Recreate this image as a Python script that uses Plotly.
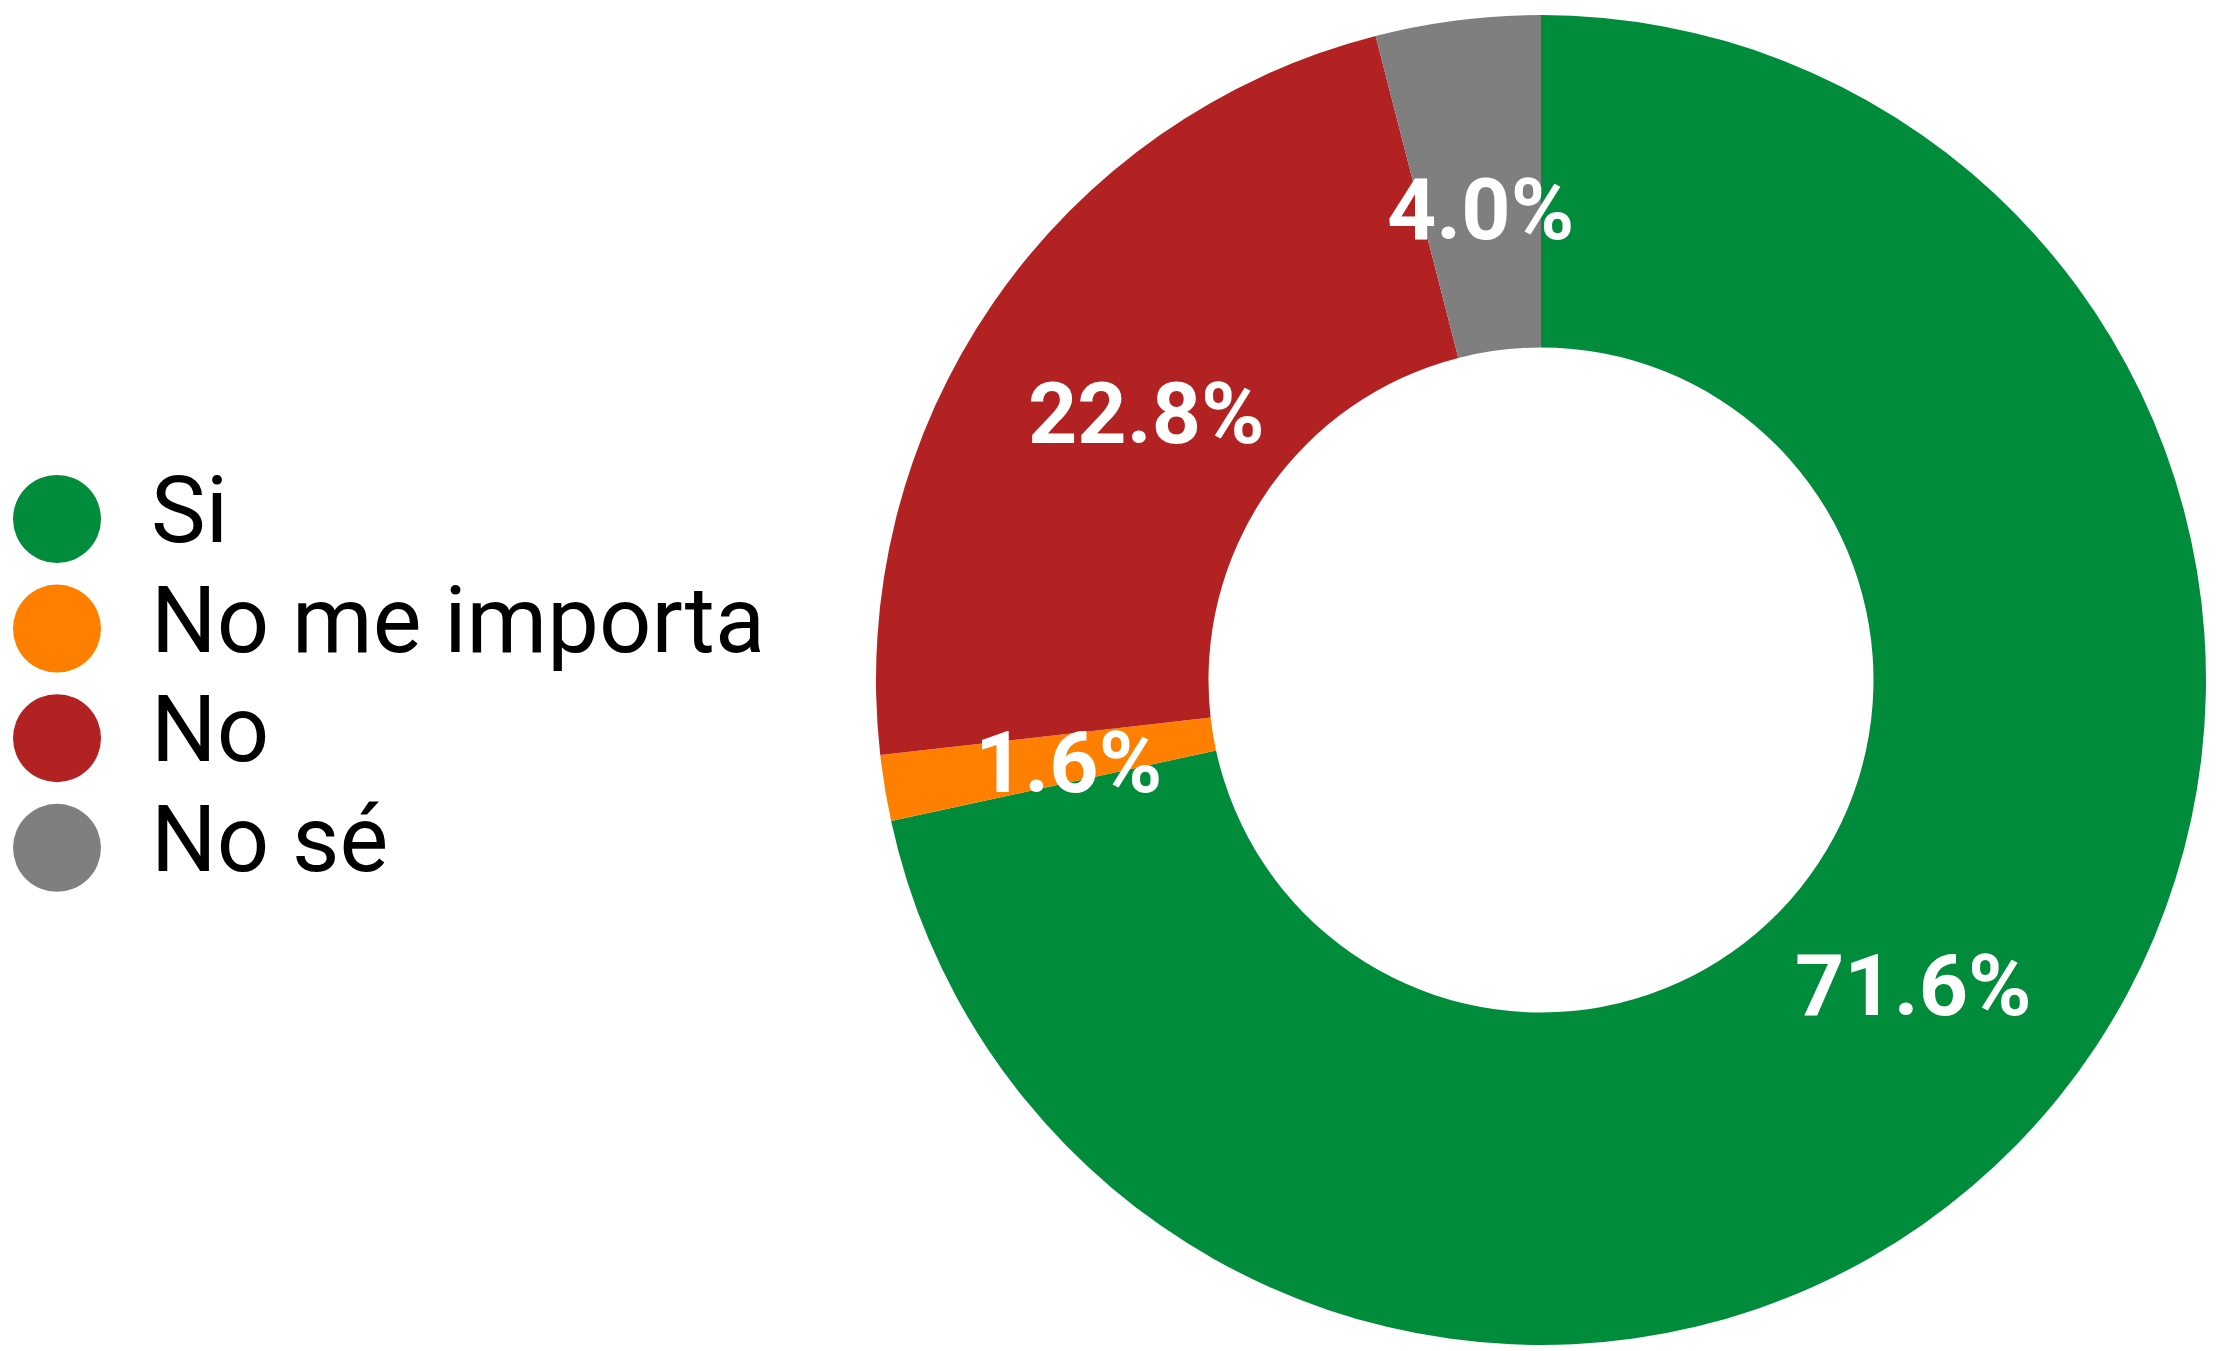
import math
import plotly.graph_objects as go

categories = ["Si", "No me importa", "No", "No sé"]
values = [71.6, 1.6, 22.8, 4.0]
colors = ["#008C3A", "#FF8000", "#B22222", "#7F7F7F"]
legend_rows = list(range(len(categories)))

# pie geometry (layout)
PIE_DOMAIN_X = [0.39477, 0.99414]
PIE_DOMAIN_Y = [0.00444, 0.98890]
HOLE = 0.5
LABEL_RADIUS = 0.72  # fraction of outer radius

# label positions derived from data (clockwise from 12 o'clock)
total = sum(values)
label_x, label_y, label_text = [], [], []
cum = 0.0
for v in values:
    theta = 2 * math.pi * (cum + v / 2) / total
    label_x.append(LABEL_RADIUS * math.sin(theta))
    label_y.append(LABEL_RADIUS * math.cos(theta))
    label_text.append(f"{100 * v / total:.1f}%")
    cum += v

fig = go.Figure()

fig.add_trace(go.Pie(
    labels=categories,
    values=values,
    sort=False,
    direction="clockwise",
    rotation=0,
    hole=HOLE,
    marker=dict(colors=colors, line=dict(width=0)),
    textinfo="none",
    hoverinfo="label+percent",
    showlegend=False,
    domain=dict(x=PIE_DOMAIN_X, y=PIE_DOMAIN_Y),
))

# custom legend: circle markers + labels
fig.add_trace(go.Scatter(
    x=[0] * len(categories),
    y=legend_rows,
    mode="markers",
    marker=dict(size=88, color=colors, line=dict(width=0)),
    showlegend=False, hoverinfo="skip",
    xaxis="x", yaxis="y",
))
fig.add_trace(go.Scatter(
    x=[1.65] * len(categories),
    y=legend_rows,
    mode="text",
    text=categories,
    textposition="middle right",
    textfont=dict(family="Roboto", size=92, color="black"),
    showlegend=False, hoverinfo="skip",
    xaxis="x", yaxis="y",
))

# slice percentage labels (annotations sit above the pie layer)
for lx, ly, lt in zip(label_x, label_y, label_text):
    fig.add_annotation(
        x=lx, y=ly, xref="x2", yref="y2",
        text=lt, showarrow=False,
        xanchor="center", yanchor="middle", yshift=-5,
        font=dict(family="Roboto", size=86, color="white", weight="bold"),
    )

fig.update_layout(
    width=2219, height=1351,
    margin=dict(l=0, r=0, t=0, b=0),
    paper_bgcolor="white",
    plot_bgcolor="rgba(0,0,0,0)",
    xaxis=dict(domain=[0, 0.35], range=[-1, 12.625], visible=False, fixedrange=True),
    yaxis=dict(domain=[0, 1], range=[7.591, -4.735], visible=False, fixedrange=True),
    xaxis2=dict(domain=PIE_DOMAIN_X, range=[-1, 1], visible=False, fixedrange=True),
    yaxis2=dict(domain=PIE_DOMAIN_Y, range=[-1, 1], visible=False, fixedrange=True),
)

fig.write_html(
    "out.html",
    config={"displayModeBar": False},
    post_script="document.body.style.margin='0';document.body.style.overflow='hidden';",
)
